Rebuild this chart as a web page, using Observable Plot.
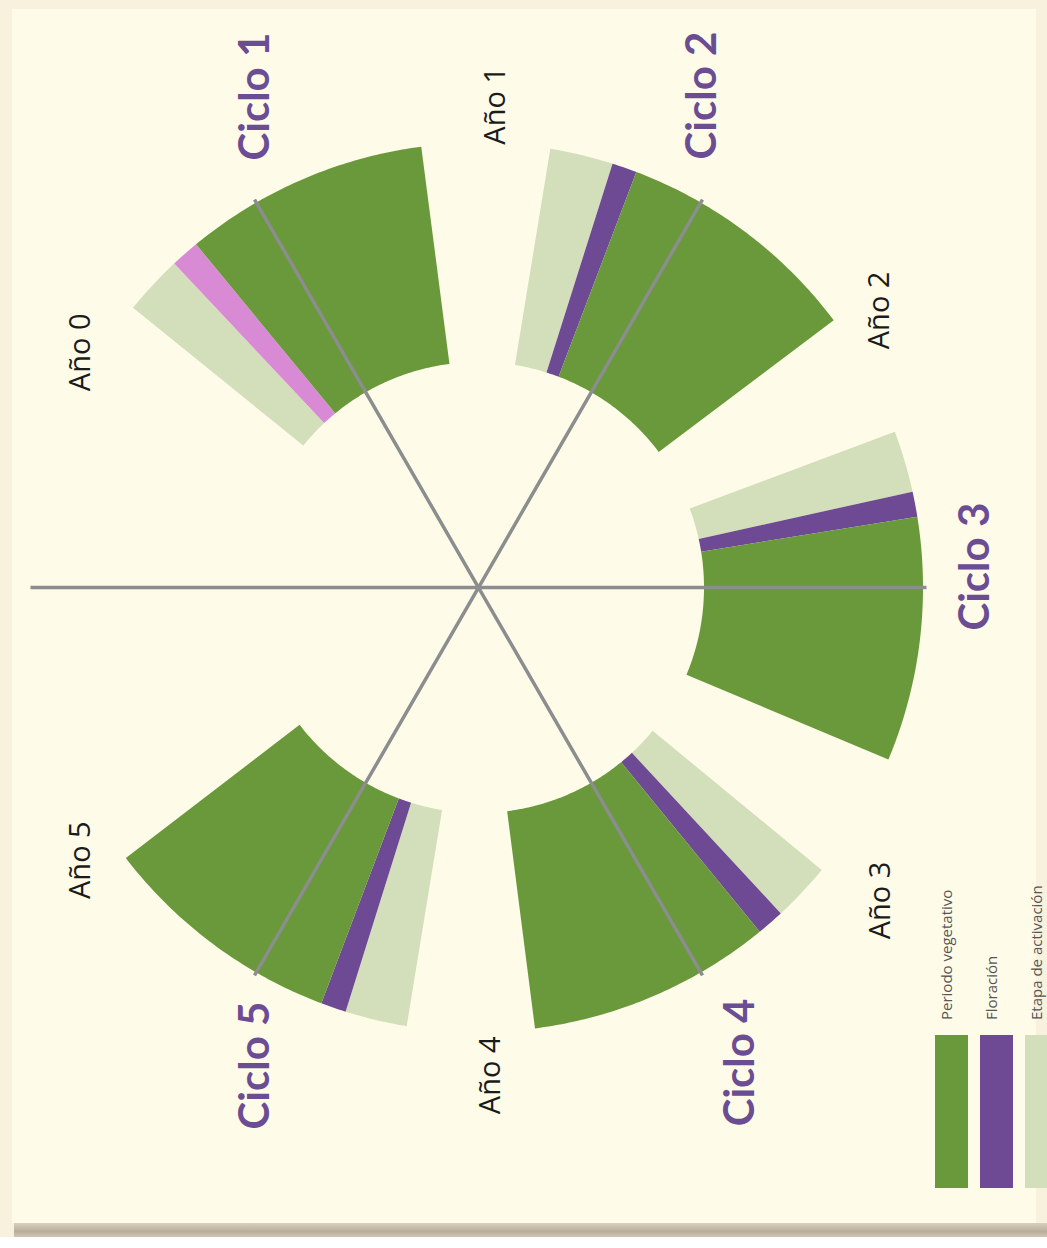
<!DOCTYPE html>
<html>
<head>
<meta charset="utf-8">
<script src="https://cdn.jsdelivr.net/npm/d3@7"></script>
<script src="https://cdn.jsdelivr.net/npm/@observablehq/plot@0.6"></script>
<style>
  html, body { margin: 0; padding: 0; background: #ffffff; overflow: hidden; }
  #page { position: relative; width: 1047px; height: 1248px; overflow: hidden; background: #f7f1de; }
  #panel { position: absolute; left: 12px; top: 9px; width: 1024px; height: 1214px; background: #fefbe8; }
  #shadow { position: absolute; left: 14px; top: 1223px; width: 1033px; height: 14px;
            background: linear-gradient(#d8cfbd, #b9ae9b 60%, #cfc6b4); }
  #below { position: absolute; left: 0; top: 1237px; width: 1047px; height: 11px; background: #ffffff; }
  #chart { position: absolute; left: 0; top: 0; }
  #legend { position: absolute; left: 935px; top: 1188px; transform-origin: 0 0; transform: rotate(-90deg);
            font-family: "Open Sans", sans-serif; font-size: 15px; line-height: 18px; color: #555; white-space: nowrap; }
  #legend .row { display: flex; align-items: flex-start; height: 33px; margin-bottom: 12px; }
  #legend .row span { padding-top: 2px; }
  #legend .sw { width: 153px; height: 33px; margin-right: 15px; flex: none; }
</style>
</head>
<body>
<div id="page">
  <div id="panel"></div>
  <div id="shadow"></div>
  <div id="below"></div>
  <div id="chart"></div>
  <div id="legend"></div>
</div>
<script>
// ---------------- data ----------------
// time axis: months counted from the start of "Año 0"; one full turn = 6 years
const cycles = ["Ciclo 1", "Ciclo 2", "Ciclo 3", "Ciclo 4", "Ciclo 5"];
const phases = ["Etapa de activación", "Floración", "Periodo vegetativo"];
const activationStart = [7.8, 19.86, 31.9, 43.89, 55.86];
const floweringStart  = [9.36, 21.51, 33.51, 45.43, 57.48];
const vegetativeStart = [10.11, 22.16, 34.17, 46.15, 58.14];
const vegetativeEnd   = [16.52, 28.61, 40.55, 52.54, 64.5];
const years = ["Año 0", "Año 1", "Año 2", "Año 3", "Año 4", "Año 5"];
const legendOrder = ["Periodo vegetativo", "Floración", "Etapa de activación"];

// ---------------- layout & style ----------------
const W = 1047, H = 1248;
const CENTER = [478, 587];
const RING = {inner: 225.5, outer: 444.5, spoke: 448};
// label placement: [month angle, radius]
const yearLabelAt  = [[6.12, 462], [18.4, 482], [29.08, 488], [43.58, 509.5], [53.72, 488], [65.12, 482.6]];
const cycleLabelAt = [[13.12, 539], [22.9, 540.6], [35.52, 497.4], [48.22, 542.5], [59.0, 527.5]];
const COLORS = {
  "Etapa de activación": "#d3deba",
  "Floración": "#6d4a93",
  "Periodo vegetativo": "#69993a",
  "Floración (primer ciclo)": "#d98ad5"
};

// month -> longitude on a pole-centred azimuthal projection (clockwise, 5° per month, month 0 on the left)
const toLon = d3.scaleLinear().domain([0, 72]).range([-90, -450]);
const toLat = (r) => 90 - r / 10;

// table built from the arrays
const segments = cycles.flatMap((c, i) => [
  {cycle: c, i, phase: phases[0], start: activationStart[i], end: floweringStart[i]},
  {cycle: c, i, phase: phases[1], start: floweringStart[i], end: vegetativeStart[i]},
  {cycle: c, i, phase: phases[2], start: vegetativeStart[i], end: vegetativeEnd[i]}
]);
const yearRows = years.map((y, i) => ({label: y, boundary: 12 * i, at: yearLabelAt[i]}));
const cycleRows = cycles.map((c, i) => ({label: c, at: cycleLabelAt[i]}));

function wedge(m0, m1, r0, r1) {
  const n = Math.max(2, Math.ceil(Math.abs(m1 - m0) * 10));
  const ms = d3.range(n + 1).map((k) => m0 + (m1 - m0) * k / n);
  const outer = ms.map((m) => [toLon(m), toLat(r1)]);
  const inner = ms.slice().reverse().map((m) => [toLon(m), toLat(r0)]);
  const ring = [...outer, ...inner, outer[0]];
  let g = {type: "Polygon", coordinates: [ring]};
  if (d3.geoArea(g) > 2 * Math.PI) g = {type: "Polygon", coordinates: [ring.slice().reverse()]};
  return g;
}

const fillKey = (d) => (d.i === 0 && d.phase === "Floración") ? "Floración (primer ciclo)" : d.phase;

const chart = Plot.plot({
  width: W,
  height: H,
  margin: 0,
  style: {background: "transparent", overflow: "visible"},
  projection: () => d3.geoAzimuthalEquidistant()
    .rotate([0, -90])
    .scale(10 * 180 / Math.PI)
    .translate(CENTER),
  color: {domain: Object.keys(COLORS), range: Object.values(COLORS)},
  marks: [
    Plot.geo(segments, {
      geometry: (d) => wedge(d.start, d.end, RING.inner, RING.outer),
      fill: fillKey,
      stroke: "none"
    }),
    Plot.link(yearRows, {
      x1: (d) => toLon(d.boundary), y1: 90,
      x2: (d) => toLon(d.boundary), y2: toLat(RING.spoke),
      stroke: "#8b8d8e",
      strokeWidth: 3.5
    }),
    Plot.text(yearRows, {
      x: (d) => toLon(d.at[0]), y: (d) => toLat(d.at[1]),
      text: "label",
      rotate: -90,
      fontSize: 29,
      fontFamily: "Open Sans",
      fill: "#1b1b1b"
    }),
    Plot.text(cycleRows, {
      x: (d) => toLon(d.at[0]), y: (d) => toLat(d.at[1]),
      text: "label",
      rotate: -90,
      fontSize: 42,
      fontWeight: "bold",
      fontFamily: "Lato",
      fill: "#6b4d93"
    })
  ]
});
document.getElementById("chart").appendChild(chart);

// legend (rotated like the rest of the figure)
const legend = d3.select("#legend");
legendOrder.forEach((p) => {
  const row = legend.append("div").attr("class", "row");
  row.append("div").attr("class", "sw").style("background", COLORS[p]);
  row.append("span").text(p);
});
</script>
</body>
</html>
